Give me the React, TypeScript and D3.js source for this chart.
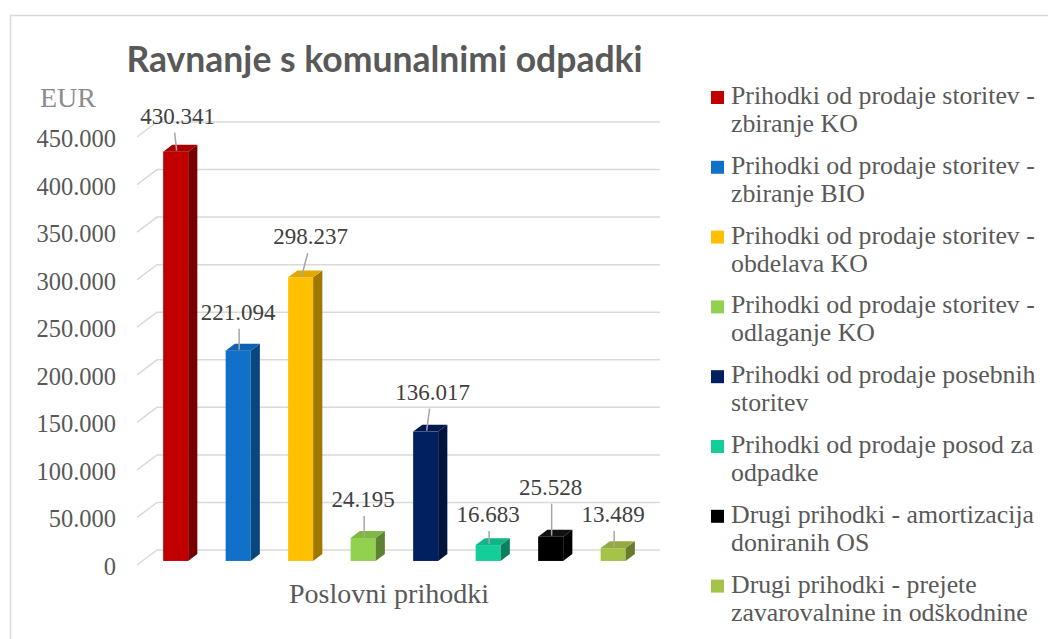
import React from "react";
import * as d3 from "d3";

const title = "Ravnanje s komunalnimi odpadki";
const axisTitle = "EUR";
const category = "Poslovni prihodki";

const seriesNames = [
  "Prihodki od prodaje storitev - zbiranje KO",
  "Prihodki od prodaje storitev - zbiranje BIO",
  "Prihodki od prodaje storitev - obdelava KO",
  "Prihodki od prodaje storitev - odlaganje KO",
  "Prihodki od prodaje posebnih storitev",
  "Prihodki od prodaje posod za odpadke",
  "Drugi prihodki - amortizacija doniranih OS",
  "Drugi prihodki - prejete zavarovalnine in odškodnine",
];
const legendLines = [
  ["Prihodki od prodaje storitev -", "zbiranje KO"],
  ["Prihodki od prodaje storitev -", "zbiranje BIO"],
  ["Prihodki od prodaje storitev -", "obdelava KO"],
  ["Prihodki od prodaje storitev -", "odlaganje KO"],
  ["Prihodki od prodaje posebnih", "storitev"],
  ["Prihodki od prodaje posod za", "odpadke"],
  ["Drugi prihodki - amortizacija", "doniranih OS"],
  ["Drugi prihodki - prejete", "zavarovalnine in odškodnine"],
];
const values = [430341, 221094, 298237, 24195, 136017, 16683, 25528, 13489];
const yTicks = [0, 50000, 100000, 150000, 200000, 250000, 300000, 350000, 400000, 450000];

const frontColors = ["#C00000", "#1170C8", "#FFC000", "#92D050", "#002060", "#14CE9A", "#000000", "#A5C249"];
const topColors = ["#A80000", "#0F62B0", "#E0A800", "#80B846", "#001A50", "#11B587", "#111111", "#91AB40"];
const sideColors = ["#780000", "#0A467E", "#A07800", "#5C8232", "#00143C", "#0B8060", "#000000", "#677A2E"];

// label placement relative to bar (layout)
const labelDx = [2, 0, 10, 0, 7, 0, 0, 0];
const labelDy = [-28, -31, -33, -31, -32, -23, -42, -26];

const fmt = (v: number) => d3.format(",")(v).replace(/,/g, ".");

export default function App() {
  const W = 1048, H = 639;
  const frontLeft = 137;
  const depthX = 20, depthY = -15;
  const backRight = 660;
  const y = d3.scaleLinear().domain([0, 450000]).range([565, 137]);
  const x = d3.scaleBand<string>().domain(seriesNames).range([139, 639]).paddingInner(0.6).paddingOuter(0.3);
  const d0 = 0.27, d1 = 0.73;
  const bw = x.bandwidth();
  const bdx = (d1 - d0) * depthX, bdy = (d1 - d0) * depthY;

  const serif = "'Liberation Serif', 'Times New Roman', serif";

  return (
    <svg width={W} height={H} style={{ position: "absolute", left: 0, top: 0, background: "#fff" }}>
      <rect x={10.5} y={15.5} width={W + 20} height={H + 20} fill="#fff" stroke="#D9D9D9" strokeWidth={1.5} />
      <text x={384.5} y={72} textAnchor="middle" fontFamily="Lato, 'Open Sans', sans-serif" fontWeight={700} fontSize={35.5} fill="#595959">
        {title}
      </text>
      <text x={40} y={107} fontFamily={serif} fontSize={28} fill="#8C8C8C">{axisTitle}</text>

      {/* gridlines */}
      {yTicks.map((t) => (
        <g key={t}>
          <path
            d={`M${frontLeft},${y(t)} L${frontLeft + depthX},${y(t) + depthY} L${backRight},${y(t) + depthY}`}
            fill="none" stroke="#D9D9D9" strokeWidth={1.5}
          />
          <text x={116} y={y(t) + 10} textAnchor="end" fontFamily={serif} fontSize={24.5} fill="#595959">
            {fmt(t)}
          </text>
        </g>
      ))}

      {/* bars */}
      {seriesNames.map((s, i) => {
        const bx = (x(s) as number) + d0 * depthX;
        const yt = y(values[i]) + d0 * depthY;
        const yb = y(0) + d0 * depthY;
        return (
          <g key={s}>
            <rect x={bx} y={yt} width={bw} height={yb - yt} fill={frontColors[i]} />
            <polygon
              points={`${bx + bw},${yt} ${bx + bw + bdx},${yt + bdy} ${bx + bw + bdx},${yb + bdy} ${bx + bw},${yb}`}
              fill={sideColors[i]}
            />
            <polygon
              points={`${bx},${yt} ${bx + bdx},${yt + bdy} ${bx + bw + bdx},${yt + bdy} ${bx + bw},${yt}`}
              fill={topColors[i]}
            />
          </g>
        );
      })}

      {/* data labels */}
      {seriesNames.map((s, i) => {
        const bx = (x(s) as number) + d0 * depthX;
        const cx = bx + bw / 2;
        const yt = y(values[i]) + d0 * depthY;
        const lx = cx + labelDx[i];
        const ly = yt + labelDy[i];
        return (
          <g key={"l" + s}>
            <line x1={cx + 1} y1={yt - 1} x2={lx + (labelDx[i] ? -4 : 0) + 1} y2={ly + 9} stroke="#A6A6A6" strokeWidth={1.5} />
            <text x={lx} y={ly} textAnchor="middle" fontFamily={serif} fontSize={23} fill="#404040">
              {fmt(values[i])}
            </text>
          </g>
        );
      })}

      <text x={389} y={603} textAnchor="middle" fontFamily={serif} fontSize={28} fill="#595959">{category}</text>

      {/* legend */}
      {legendLines.map((lines, i) => {
        const base = 104 + i * 69.8;
        return (
          <g key={"lg" + i}>
            <rect x={711} y={base - 13} width={13} height={13} fill={frontColors[i]} />
            <text fontFamily={serif} fontSize={25.8} fill="#595959">
              <tspan x={731} y={base}>{lines[0]}</tspan>
              <tspan x={731} y={base + 28}>{lines[1]}</tspan>
            </text>
          </g>
        );
      })}
    </svg>
  );
}
